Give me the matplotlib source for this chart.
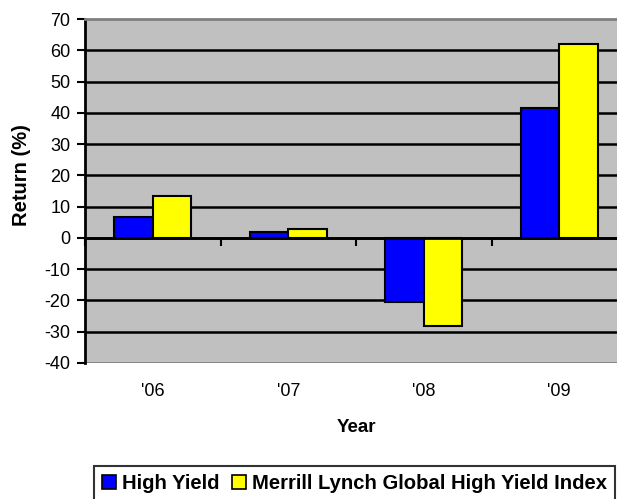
import matplotlib
matplotlib.use("Agg")
import matplotlib.pyplot as plt
from matplotlib.patches import Patch
import numpy as np

plt.rcParams['font.family'] = ['Liberation Sans', 'DejaVu Sans']
plt.rcParams['axes.unicode_minus'] = False

years = ["'06", "'07", "'08", "'09"]
high_yield = [6.7, 2.0, -20.5, 41.6]
ml_index = [13.4, 2.9, -28.2, 62.1]
series_names = ["High Yield", "Merrill Lynch Global High Yield Index"]
y_ticks = list(range(-40, 71, 10))

W, H = 617, 499
fig = plt.figure(figsize=(W / 100, H / 100), dpi=100)
left, right, top, bottom = 85, 627, 19, 363
ax = fig.add_axes([left / W, 1 - bottom / H, (right - left) / W, (bottom - top) / H])
ax.set_facecolor('#C0C0C0')

x = np.arange(len(years))
w = 1 / 3.5
ax.bar(x - w / 2, high_yield, w, color='#0000FF', edgecolor='black', linewidth=1.5, zorder=3)
ax.bar(x + w / 2, ml_index, w, color='#FFFF00', edgecolor='black', linewidth=1.5, zorder=3)

ax.set_xlim(-0.5, len(years) - 0.5)
ax.set_ylim(-40, 70)
ax.set_yticks(y_ticks)
ax.tick_params(axis='y', direction='out', length=5.5, width=1.5, labelsize=13, pad=5)

# horizontal gridlines
for v in y_ticks[1:-1]:
    ax.axhline(v, color='black', linewidth=1.8, zorder=1)
ax.axhline(-40, color='#808080', linewidth=2, zorder=2)

# category axis crossing at zero
ax.spines['bottom'].set_position(('data', 0))
ax.spines['bottom'].set_linewidth(2)
ax.spines['bottom'].set_zorder(4)
ax.set_xticks(np.arange(-0.5, len(years) + 0.5, 1))
ax.set_xticklabels([])
ax.tick_params(axis='x', direction='out', length=6, width=1.5)
ax.spines['left'].set_linewidth(2)
ax.spines['top'].set_color('#808080')
ax.spines['top'].set_linewidth(2)
ax.spines['right'].set_visible(False)

# category labels below the plot area
label_y = -(392 - bottom) / (bottom - top)
for i, lab in enumerate(years):
    ax.text(i, label_y, lab, transform=ax.get_xaxis_transform(), ha='center',
            va='center', fontsize=13)

ax.text(0.5, -(428 - bottom) / (bottom - top), 'Year', transform=ax.transAxes,
        ha='center', va='center', fontsize=13.5, fontweight='bold')
fig.text(21.7 / W, 1 - 175 / H, 'Return (%)', rotation=90, ha='center', va='center',
         fontsize=14.5, fontweight='bold')

handles = [Patch(facecolor='#0000FF', edgecolor='black', linewidth=1.2),
           Patch(facecolor='#FFFF00', edgecolor='black', linewidth=1.2)]
leg = fig.legend(handles, series_names, loc='upper left', ncol=2,
                 bbox_to_anchor=(94 / W, 1 - 466 / H), frameon=True, fancybox=False,
                 prop={'weight': 'bold', 'size': 14.6}, handlelength=0.7, handleheight=0.7,
                 handletextpad=0.3, columnspacing=0.6, borderpad=0.4, borderaxespad=0)
leg.get_frame().set_edgecolor('black')
leg.get_frame().set_linewidth(1.5)

fig.savefig('out.png', dpi=100)
